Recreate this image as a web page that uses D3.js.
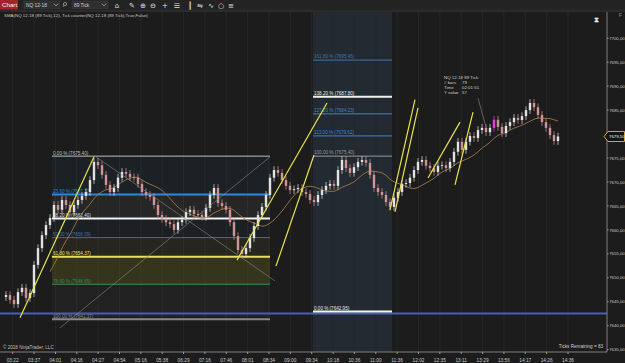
<!DOCTYPE html>
<html>
<head>
<meta charset="utf-8">
<script src="https://cdnjs.cloudflare.com/ajax/libs/d3/7.8.5/d3.min.js"></script>
<style>
  html, body { margin: 0; padding: 0; background: #1c1c1c; overflow: hidden; }
  svg { display: block; font-family: "Liberation Sans", Arial, sans-serif; }
</style>
</head>
<body>
<svg id="chart" width="625" height="363"></svg>
<script>
// Closing prices per bar (89 tick bars)
const closes = [
  7646.4, 7645.4, 7644.5, 7647.0, 7647.9, 7645.8, 7646.8, 7652.7, 7656.2, 7658.9,
  7661.0, 7662.5, 7665.2, 7664.2, 7666.25, 7665.2, 7663.7, 7665.2, 7666.25, 7667.1,
  7667.9, 7670.4, 7674.2, 7673.5, 7671.5, 7669.4, 7667.9, 7668.75, 7670.9, 7672.1,
  7671.7, 7671.0, 7670.9, 7669.6, 7667.9, 7667.3, 7666.9, 7665.2, 7663.1, 7662.3,
  7661.6, 7661.2, 7660.0, 7661.6, 7662.1, 7663.7, 7664.2, 7663.3, 7663.1, 7662.7,
  7664.6, 7667.3, 7668.75, 7665.6, 7665.0, 7664.2, 7661.6, 7658.7, 7655.8, 7655.0,
  7656.2, 7658.3, 7660.8, 7663.1, 7664.8, 7667.3, 7670.9, 7672.5, 7671.9, 7670.4,
  7669.2, 7668.3, 7668.5, 7668.75, 7667.9, 7667.5, 7666.25, 7665.8, 7667.3, 7668.3,
  7669.2, 7669.6, 7669.2, 7672.5, 7674.6, 7672.9, 7671.9, 7673.1, 7674.2, 7674.6,
  7674.0, 7671.5, 7668.75, 7667.9, 7667.3, 7665.8, 7664.8, 7666.7, 7667.9, 7669.6,
  7669.8, 7670.9, 7672.5, 7674.2, 7674.6, 7673.4, 7672.9, 7672.1, 7673.4, 7673.5,
  7672.9, 7674.2, 7676.3, 7678.4, 7676.7, 7678.4, 7679.6, 7679.2, 7680.85, 7681.3,
  7680.4, 7681.3, 7683.0, 7681.5, 7680.2, 7681.7, 7682.5, 7683.4, 7682.95, 7683.75,
  7685.0, 7686.5, 7685.6, 7684.0, 7682.5, 7681.3, 7679.8, 7678.55, 7679.5
];
const firstOpen = 7646.0;
const wickPad = 0.8;
const markedBar = 122;

const timeLabels = ['03:22', '03:37', '04:01', '04:16', '04:27', '04:54', '05:16', '05:38', '06:29',
  '07:16', '07:46', '08:01', '08:34', '09:00', '09:34', '10:18', '10:36', '11:00', '11:36',
  '12:02', '12:35', '13:11', '13:29', '13:56', '14:17', '14:26', '14:36'];
const priceTicks = [7635, 7640, 7645, 7650, 7655, 7660, 7665, 7670, 7675, 7685, 7690, 7695, 7700];
const lastPrice = 7679.50;

// Fibonacci retracement (left) and extension (right)
const fibLeftLevels = [0, 23.6, 38.2, 50, 61.8, 78.6, 100];
const fibLeftPrices = [7675.40, 7667.37, 7662.40, 7658.39, 7654.37, 7648.65, 7641.37];
const fibLeftSpan = [11.5, 66];
const fibRightLevels = [0, 100, 113, 127.2, 138.2, 161.8];
const fibRightPrices = [7642.95, 7675.40, 7679.62, 7684.23, 7687.80, 7695.45];
const fibRightSpan = [76.75, 96.5];
const horizontalLine = 7642.55;

// Drawn trend lines: [bar1, price1, bar2, price2]
const yellowLines = [
  [3.5, 7641.65, 22, 7675.25],
  [57.75, 7653.7, 80.25, 7686.5],
  [67.5, 7652.45, 77, 7675.65],
  [96, 7664.2, 102.25, 7687.2],
  [97.25, 7663.75, 103, 7685.45],
  [105.5, 7670.85, 113.5, 7682.5],
  [112.25, 7669.4, 116.75, 7684.6]
];
const grayLines = [
  [22.5, 7675.25, 67.25, 7649.35],
  [13.5, 7639.55, 66, 7675.25],
  [118, 7687.5, 120, 7681.5]
];
const tooltipLines = [['NQ 12-18 89 Tick', ''], ['# bars', '79'], ['Time', '02:01:51'], ['Y value', '57']];

const width = 625, height = 363;
const plot = { left: 0, right: 607, top: 12, bottom: 352 };
const svg = d3.select('#chart');

const x = d3.scaleLinear().domain([0, closes.length - 1]).range([6, 558]);
const y = d3.scaleLinear().domain([7634.51, 7705.49]).range([plot.bottom, plot.top]);
const xTime = d3.scalePoint().domain(timeLabels).range([12.7, 568]);

const bars = closes.map((c, i) => {
  const o = i === 0 ? firstOpen : closes[i - 1];
  return { i: i, o: o, c: c, h: Math.max(o, c) + wickPad, l: Math.min(o, c) - wickPad };
});

drawFrame();
drawGrid();
drawFibs();
drawCandles();
drawTrendLines();
drawAxes();
drawToolbar();

function drawFrame() {
  svg.append('rect').attr('width', width).attr('height', height).attr('fill', '#1c1c1c');
  // highlighted region
  svg.append('rect').attr('x', x(fibRightSpan[0])).attr('y', plot.top)
    .attr('width', x(fibRightSpan[1]) - x(fibRightSpan[0])).attr('height', plot.bottom - plot.top)
    .attr('fill', '#232a31');
}

function drawGrid() {
  svg.append('g').selectAll('line').data(timeLabels).enter().append('line')
    .attr('x1', d => xTime(d)).attr('x2', d => xTime(d))
    .attr('y1', plot.top).attr('y2', plot.bottom)
    .attr('stroke', '#272727').attr('stroke-width', 1);
}

function drawFibs() {
  const leftColors = ['#bdbdbd', '#2e86de', '#f2f2f2', '#3d6fa8', '#e8e25a', '#3f8a55', '#8a8a8a'];
  const leftWidths = [1, 2, 2, 1, 2, 1, 2];
  const x1 = x(fibLeftSpan[0]), x2 = x(fibLeftSpan[1]);
  const g = svg.append('g');

  // fills between levels
  for (let k = 0; k < fibLeftPrices.length - 1; k++) {
    const top = y(fibLeftPrices[k]), bot = y(fibLeftPrices[k + 1]);
    g.append('rect').attr('x', x1).attr('y', top).attr('width', x2 - x1).attr('height', bot - top)
      .attr('fill', k === 4 ? '#55531f' : leftColors[k + 1]).attr('opacity', k === 4 ? 0.45 : 0.05);
  }
  g.selectAll('line.lv').data(fibLeftPrices).enter().append('line')
    .attr('x1', x1).attr('x2', x2).attr('y1', d => y(d)).attr('y2', d => y(d))
    .attr('stroke', (d, i) => leftColors[i]).attr('stroke-width', (d, i) => leftWidths[i]);
  g.selectAll('text').data(fibLeftPrices).enter().append('text')
    .attr('x', x1 + 1).attr('y', d => y(d) - 1.5)
    .attr('font-size', 4.6).attr('fill', (d, i) => i === 2 ? '#dddddd' : leftColors[i])
    .text((d, i) => `${fibLeftLevels[i].toFixed(2)} % (${d.toFixed(2)})`);

  // full width horizontal line
  svg.append('line').attr('x1', plot.left).attr('x2', plot.right)
    .attr('y1', y(horizontalLine)).attr('y2', y(horizontalLine))
    .attr('stroke', '#4b5cb8').attr('stroke-width', 2);

  const rightColors = ['#f2f2f2', '#9a9a9a', '#3d82cc', '#3d82cc', '#f2f2f2', '#3d76b5'];
  const rightWidths = [2, 1, 1, 1, 2, 1];
  const r1 = x(fibRightSpan[0]), r2 = x(fibRightSpan[1]);
  const gr = svg.append('g');
  gr.selectAll('line').data(fibRightPrices).enter().append('line')
    .attr('x1', r1).attr('x2', r2).attr('y1', d => y(d)).attr('y2', d => y(d))
    .attr('stroke', (d, i) => rightColors[i]).attr('stroke-width', (d, i) => rightWidths[i]);
  gr.selectAll('text').data(fibRightPrices).enter().append('text')
    .attr('x', r1 + 1).attr('y', d => y(d) - 1.8)
    .attr('font-size', 4.6).attr('fill', (d, i) => i === 0 || i === 4 ? '#e6e6e6' : rightColors[i])
    .text((d, i) => `${fibRightLevels[i].toFixed(2)} % (${d.toFixed(2)})`);
}

function drawCandles() {
  const g = svg.append('g');
  // SMA(12)
  const sma = closes.map((c, i) => i < 11 ? null : d3.mean(closes.slice(i - 11, i + 1)));
  g.append('path')
    .datum(sma.map((v, i) => [i, v]).filter(d => d[1] !== null))
    .attr('d', d3.line().x(d => x(d[0])).y(d => y(d[1])))
    .attr('fill', 'none').attr('stroke', '#a9804c').attr('stroke-width', 0.8);

  const colorOf = d => d.i === markedBar ? '#e23ee6' : (d.c >= d.o ? '#e2e2e2' : '#cf9595');
  g.selectAll('line.wick').data(bars).enter().append('line')
    .attr('x1', d => x(d.i)).attr('x2', d => x(d.i))
    .attr('y1', d => y(d.h)).attr('y2', d => y(d.l))
    .attr('stroke', colorOf).attr('stroke-width', 0.7);
  g.selectAll('rect').data(bars).enter().append('rect')
    .attr('x', d => x(d.i) - 1.2).attr('width', 2.4)
    .attr('y', d => y(Math.max(d.o, d.c)))
    .attr('height', d => Math.max(0.8, Math.abs(y(d.o) - y(d.c))))
    .attr('fill', colorOf);
}

function drawTrendLines() {
  const g = svg.append('g');
  g.selectAll('line.gray').data(grayLines).enter().append('line')
    .attr('x1', d => x(d[0])).attr('y1', d => y(d[1])).attr('x2', d => x(d[2])).attr('y2', d => y(d[3]))
    .attr('stroke', '#8a8a8a').attr('stroke-width', 0.6);
  g.selectAll('line.yellow').data(yellowLines).enter().append('line')
    .attr('x1', d => x(d[0])).attr('y1', d => y(d[1])).attr('x2', d => x(d[2])).attr('y2', d => y(d[3]))
    .attr('stroke', '#e8e44c').attr('stroke-width', 1.2);

  // tooltip of the tick counter
  const tip = g.append('g').attr('transform', 'translate(444,79)');
  tip.selectAll('text.k').data(tooltipLines).enter().append('text')
    .attr('x', 0).attr('y', (d, i) => i * 5)
    .attr('font-size', 4.4).attr('fill', '#cfcfcf').text(d => d[0]);
  tip.selectAll('text.v').data(tooltipLines).enter().append('text')
    .attr('x', 18).attr('y', (d, i) => i * 5)
    .attr('font-size', 4.4).attr('fill', '#cfcfcf').text(d => d[1]);
}

function drawAxes() {
  // price axis
  svg.append('line').attr('x1', plot.right).attr('x2', plot.right).attr('y1', plot.top).attr('y2', plot.bottom)
    .attr('stroke', '#9a9a9a').attr('stroke-width', 0.8);
  const ya = svg.append('g');
  ya.selectAll('line').data(priceTicks).enter().append('line')
    .attr('x1', plot.right).attr('x2', plot.right + 1.5).attr('y1', d => y(d)).attr('y2', d => y(d))
    .attr('stroke', '#9a9a9a');
  ya.selectAll('text').data(priceTicks).enter().append('text')
    .attr('x', plot.right + 2.2).attr('y', d => y(d) + 1.6)
    .attr('font-size', 4.3).attr('fill', '#c8c8c8')
    .text(d => d.toFixed(2).replace('.', ','));

  // last price marker
  const ly = y(lastPrice);
  svg.append('path')
    .attr('d', `M${plot.right - 3},${ly} L${plot.right + 1},${ly - 5} L624.5,${ly - 5} L624.5,${ly + 5} L${plot.right + 1},${ly + 5} Z`)
    .attr('fill', '#141414').attr('stroke', '#e8b84a').attr('stroke-width', 0.9);
  svg.append('text').attr('x', plot.right + 2).attr('y', ly + 1.6)
    .attr('font-size', 4.3).attr('fill', '#f0f0f0').text(lastPrice.toFixed(2).replace('.', ','));

  // time axis
  svg.append('line').attr('x1', 0).attr('x2', plot.right).attr('y1', plot.bottom).attr('y2', plot.bottom)
    .attr('stroke', '#9a9a9a').attr('stroke-width', 0.8);
  const xa = svg.append('g');
  xa.selectAll('line').data(timeLabels).enter().append('line')
    .attr('x1', d => xTime(d)).attr('x2', d => xTime(d))
    .attr('y1', plot.bottom).attr('y2', plot.bottom + 2).attr('stroke', '#9a9a9a');
  xa.selectAll('text').data(timeLabels).enter().append('text')
    .attr('x', d => xTime(d)).attr('y', 361.5).attr('text-anchor', 'middle')
    .attr('font-size', 4.8).attr('fill', '#c8c8c8').text(d => d);

  svg.append('text').attr('x', 3).attr('y', 349).attr('font-size', 4.6).attr('fill', '#bdbdbd')
    .text('\u00a9 2018 NinjaTrader, LLC');
  svg.append('text').attr('x', 603).attr('y', 347.5).attr('text-anchor', 'end')
    .attr('font-size', 4.6).attr('fill', '#cfcfcf').text('Ticks Remaining = 83');
}

function drawToolbar() {
  svg.append('rect').attr('width', width).attr('height', 9.5).attr('fill', '#232323');
  svg.append('rect').attr('y', 9.5).attr('width', width).attr('height', 2.5).attr('fill', '#2b2b2b');
  svg.append('rect').attr('width', 18).attr('height', 9.5).attr('fill', '#a3252b');
  svg.append('text').attr('x', 2).attr('y', 7).attr('font-size', 6.2).attr('fill', '#f2f2f2').text('Chart');

  const boxes = [{ x: 24, w: 36, t: 'NQ 12-18' }, { x: 72, w: 36, t: '89 Tick' }];
  const tb = svg.append('g');
  tb.selectAll('rect').data(boxes).enter().append('rect')
    .attr('x', d => d.x).attr('y', 1).attr('width', d => d.w).attr('height', 7.5)
    .attr('fill', '#303030').attr('stroke', '#3e3e3e').attr('stroke-width', 0.5);
  tb.selectAll('text').data(boxes).enter().append('text')
    .attr('x', d => d.x + 2).attr('y', 6.6).attr('font-size', 4.8).attr('fill', '#d0d0d0').text(d => d.t);
  tb.selectAll('path.dd').data(boxes).enter().append('path')
    .attr('d', d => `M${d.x + d.w - 6},3.8 l2,2 l2,-2`)
    .attr('fill', 'none').attr('stroke', '#d0d0d0').attr('stroke-width', 0.7);
  // search icon
  tb.append('circle').attr('cx', 65).attr('cy', 4).attr('r', 1.6).attr('fill', 'none').attr('stroke', '#d0d0d0').attr('stroke-width', 0.6);
  tb.append('line').attr('x1', 64).attr('y1', 5.2).attr('x2', 63).attr('y2', 6.8).attr('stroke', '#d0d0d0').attr('stroke-width', 0.6);

  const icons = ['\u2302', '\u270e', '\u2295', '\u2296', '+', '\u2630', '\u2503', '\u21cb', '\u223f', '\u25cb', '\u2261'];
  const iconX = [117, 132, 143, 153, 165, 177, 190, 200, 211, 221, 231];
  tb.selectAll('text.ic').data(icons).enter().append('text')
    .attr('x', (d, i) => iconX[i]).attr('y', 7.5).attr('text-anchor', 'middle')
    .attr('font-family', 'DejaVu Sans').attr('font-size', 7).attr('fill', '#e0e0e0').text(d => d);

  svg.append('text').attr('x', 4).attr('y', 16.5).attr('font-size', 4.4).attr('fill', '#c8c8c8')
    .text('SMA(NQ 12-18 (89 Tick),12), Tick counter(NQ 12-18 (89 Tick),True,False)');
  svg.append('text').attr('x', 596).attr('y', 22).attr('text-anchor', 'middle')
    .attr('font-size', 7).attr('font-weight', 'bold').attr('fill', '#e8e8e8').text('\u29d7');
  svg.append('text').attr('x', 619).attr('y', 17).attr('font-size', 4.6).attr('fill', '#9a9a9a').text('F');
}
</script>
</body>
</html>
